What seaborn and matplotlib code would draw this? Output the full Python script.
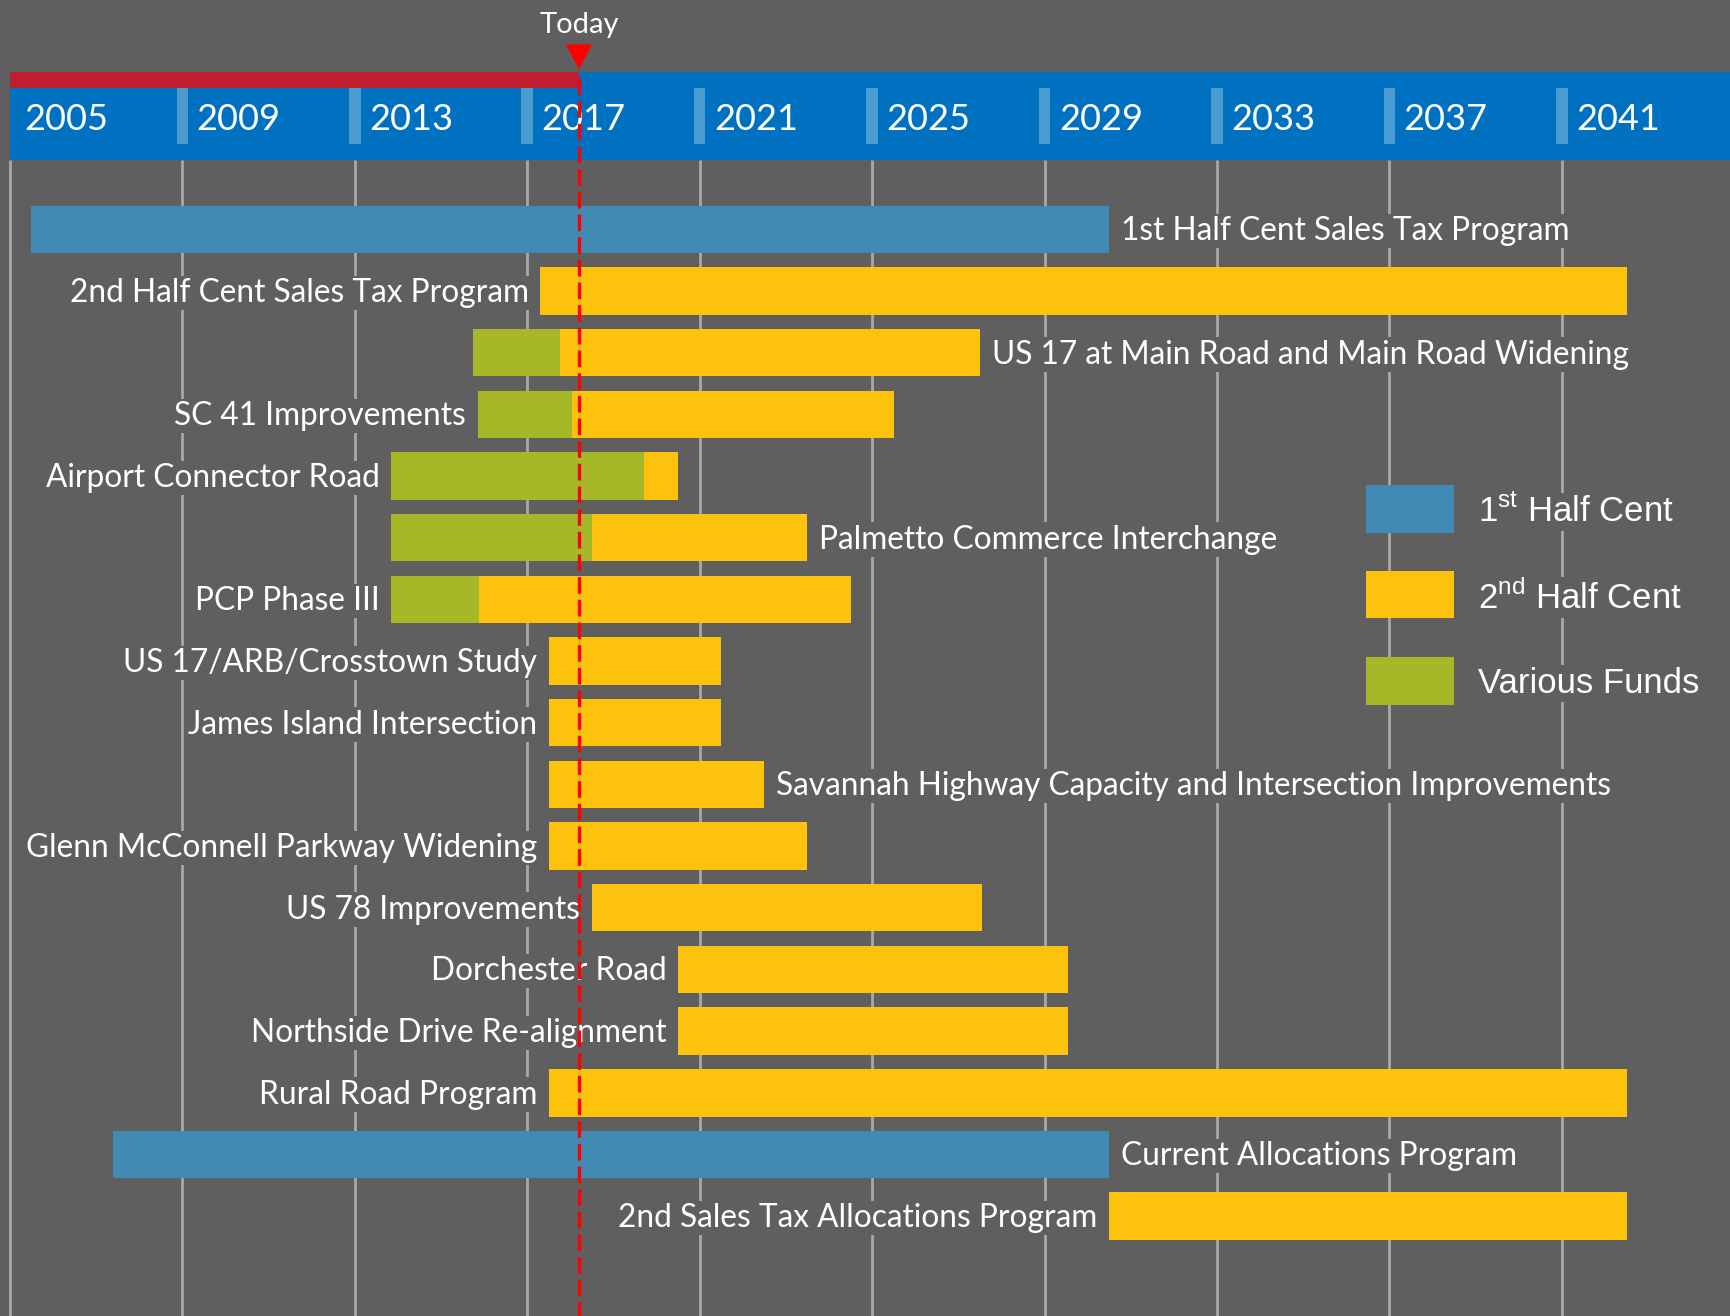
import numpy as np
import pandas as pd
import matplotlib.pyplot as plt
import seaborn as sns

projects = [
    "1st Half Cent Sales Tax Program",
    "2nd Half Cent Sales Tax Program",
    "US 17 at Main Road and Main Road Widening",
    "SC 41 Improvements",
    "Airport Connector Road",
    "Palmetto Commerce Interchange",
    "PCP Phase III",
    "US 17/ARB/Crosstown Study",
    "James Island Intersection",
    "Savannah Highway Capacity and Intersection Improvements",
    "Glenn McConnell Parkway Widening",
    "US 78 Improvements",
    "Dorchester Road",
    "Northside Drive Re-alignment",
    "Rural Road Program",
    "Current Allocations Program",
    "2nd Sales Tax Allocations Program",
]
start_year = [2005.5, 2017.3, 2015.75, 2015.85, 2013.85, 2013.85, 2013.85, 2017.5, 2017.5,
              2017.5, 2017.5, 2018.5, 2020.5, 2020.5, 2017.5, 2007.4, 2030.5]
end_year = [2030.5, 2042.5, 2027.5, 2025.5, 2020.5, 2023.5, 2024.5, 2021.5, 2021.5,
            2022.5, 2023.5, 2027.55, 2029.55, 2029.55, 2042.5, 2030.5, 2042.5]
program = ["1st", "2nd", "2nd", "2nd", "2nd", "2nd", "2nd", "2nd", "2nd",
           "2nd", "2nd", "2nd", "2nd", "2nd", "2nd", "1st", "2nd"]
various_end = [np.nan, np.nan, 2017.77, 2018.03, 2019.7, 2018.5, 2015.87, np.nan, np.nan,
               np.nan, np.nan, np.nan, np.nan, np.nan, np.nan, np.nan, np.nan]
label_side = ["right", "left", "right", "left", "left", "right", "left", "left", "left",
              "right", "left", "left", "left", "left", "left", "right", "left"]
year_ticks = list(range(2005, 2042, 4))
today = 2018.2
legend_labels = [r"1$^{\mathregular{st}}$ Half Cent", r"2$^{\mathregular{nd}}$ Half Cent", "Various Funds"]

# --- colours ---
BG = "#5f5f5f"
BLUE = "#418ab3"
YELLOW = "#fdc20c"
GREEN = "#a6b727"
BAND = "#0070c0"
BAND_SEP = "#4a9bd0"
CRIMSON = "#be1e2d"
GRID = "#a8a8a8"

sns.set_theme(style="dark", rc={"axes.facecolor": BG, "figure.facecolor": BG,
                                "patch.edgecolor": "none", "patch.linewidth": 0})
plt.rcParams['font.family'] = ['Lato', 'DejaVu Sans']

df = pd.DataFrame({"project": projects, "start": start_year, "end": end_year,
                   "program": program, "various_end": various_end, "side": label_side})
df["row"] = np.arange(len(df))

fig = plt.figure(figsize=(17.3, 13.16), dpi=100)
ax = fig.add_axes([0, 0, 1, 1])
ax.set_facecolor(BG)
x_min, x_max = 2004.77, 2044.9
y_top, y_bot = -3.72, 17.62
ax.set_xlim(x_min, x_max)
ax.set_ylim(y_bot, y_top)
ax.axis("off")

bar_h = 0.77
band_top, band_bot = -2.56, -1.13
no_edge = dict(edgecolor="none", linewidth=0)

# vertical grid lines under everything
ax.vlines(year_ticks, band_bot, y_bot, color=GRID, lw=2, zorder=1)

# main bars
colors = df["program"].map({"1st": BLUE, "2nd": YELLOW})
ax.barh(df["row"], df["end"] - df["start"], left=df["start"], height=bar_h,
        color=colors, zorder=2, **no_edge)
g = df.dropna(subset=["various_end"])
ax.barh(g["row"], g["various_end"] - g["start"], left=g["start"], height=bar_h,
        color=GREEN, zorder=2.1, **no_edge)

# project labels
pad = 0.27
for r in df.itertuples():
    if r.side == "left":
        x, ha = r.start - pad, "right"
    else:
        x, ha = r.end + pad, "left"
    ax.text(x, r.row + 0.03, r.project, ha=ha, va="center", color="white", fontsize=22.8,
            bbox=dict(fc=BG, ec="none", pad=1.5), zorder=3)

# header band with years
ax.barh((band_top + band_bot) / 2, x_max - 2005, left=2005, height=band_bot - band_top,
        color=BAND, zorder=2, **no_edge)
red_h = 0.27
ax.barh(band_top + red_h / 2, today - 2005, left=2005, height=red_h, color=CRIMSON,
        zorder=2.2, **no_edge)
ax.barh([-1.84] * (len(year_ticks) - 1), 0.27, left=np.array(year_ticks[1:]) - 0.135,
        height=0.9, color=BAND_SEP, zorder=2.1, **no_edge)
for t in year_ticks:
    ax.text(t + 0.33, -1.79, str(t), ha="left", va="center", color="white", fontsize=26, zorder=3)

# today marker
ax.plot([today, today], [-2.45, y_bot], color="red", lw=2.4, dashes=(5, 1.8), zorder=6)
ax.fill([today - 0.31, today + 0.31, today], [-3.0, -3.0, -2.6], color="red", lw=0, zorder=6)
ax.text(today, -3.32, "Today", ha="center", va="center", color="white", fontsize=21, zorder=6)

# legend
leg_y = [4.53, 5.92, 7.32]
for y, lab, c in zip(leg_y, legend_labels, [BLUE, YELLOW, GREEN]):
    ax.barh(y, 2.03, left=2036.46, height=bar_h, color=c, zorder=3, **no_edge)
    ax.text(2039.05, y + 0.05, lab, ha="left", va="center", color="white", fontsize=25,
            family=["Liberation Sans", "DejaVu Sans"],
            bbox=dict(fc=BG, ec="none", pad=1.5), zorder=3)

fig.savefig("out.png", dpi=100, facecolor=BG)
